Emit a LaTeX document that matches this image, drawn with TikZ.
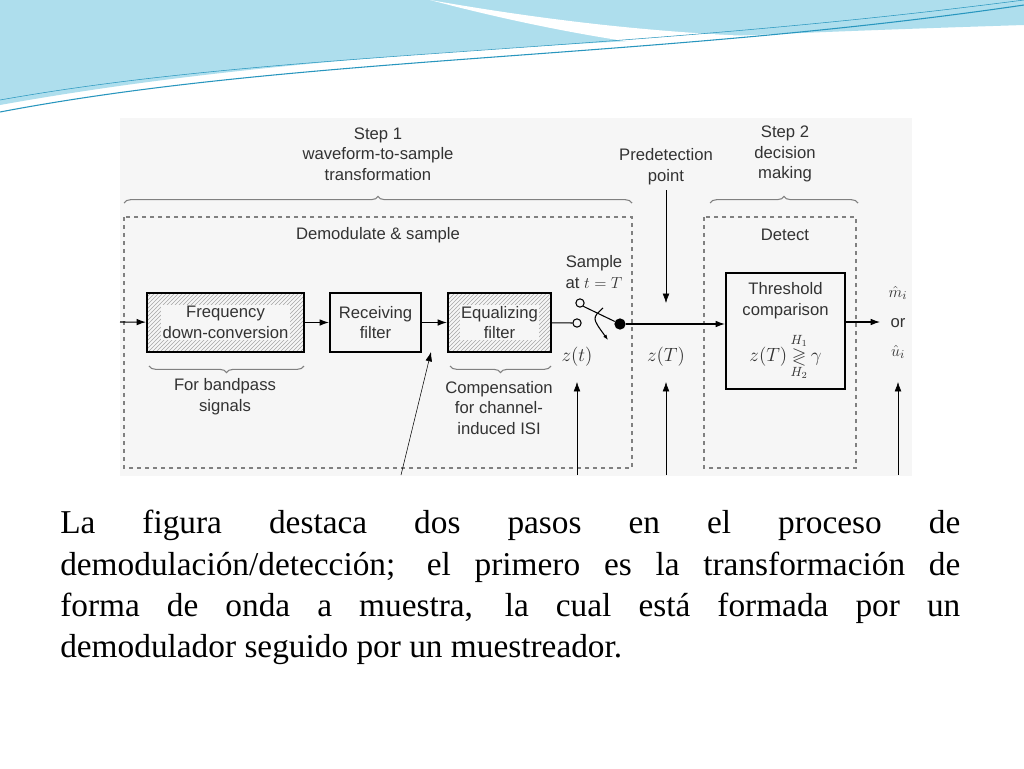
\documentclass[tikz,border=0pt]{standalone}
\usepackage{amssymb}
\usepackage{fontspec}
\setmainfont{Liberation Serif}
\setsansfont{Liberation Sans}
\usetikzlibrary{patterns,decorations.pathreplacing,arrows.meta}
\definecolor{wave}{RGB}{120,200,225}
\definecolor{wavedark}{RGB}{40,150,190}
\tikzset{
  blk/.style={draw, line width=1.6pt, inner sep=0pt},
  hatch/.style={blk, pattern=north east lines, pattern color=gray!70},
  dbox/.style={draw=gray, dashed, thick},
  lbl/.style={font=\sffamily\fontsize{12.5}{15.5}\selectfont, align=center, text=black!80},
  arr/.style={-{Latex[length=7pt,width=5pt]}, thick},
  brc/.style={decorate, decoration={brace, amplitude=5pt}, gray, thick}
}
\begin{document}
\begin{tikzpicture}[x=0.75pt,y=-0.75pt]
\useasboundingbox (0,0) rectangle (1024,768);
\fill[white] (0,0) rectangle (1024,768);
% top waves
\fill[wave!60] (0,0) -- (0,105) .. controls (250,60) and (550,40) .. (1024,25) -- (1024,0) -- cycle;
\fill[white] (430,0) .. controls (600,30) and (800,50) .. (1024,30) -- (1024,55) .. controls (800,75) and (600,45) .. (430,0) -- cycle;
\draw[wavedark, thick] (0,112) .. controls (300,55) and (650,60) .. (1024,5);
\draw[wavedark] (0,100) .. controls (280,50) and (600,55) .. (1024,0);
% diagram background
\fill[gray!7] (120,118) rectangle (912,476);
% step labels and braces
\node[lbl] (step1) at (378,154) {Step 1\\waveform-to-sample\\transformation};
\node[lbl] (pred) at (666,167) {Predetection\\point};
\node[lbl] (step2) at (785,154) {Step 2\\decision\\making};
\draw[brc] (124,203) -- (632,203);
\draw[brc] (710,203) -- (858,203);
% dashed boxes
\draw[dbox] (124,217) rectangle (632,468);
\draw[dbox] (704,217) rectangle (856,468);
\node[lbl] (demod) at (378,235) {Demodulate \& sample};
\node[lbl] (detect) at (785,235) {Detect};
% blocks
\node[hatch, minimum width=157*0.75pt, minimum height=59*0.75pt] (freq) at (225.5,322.5) {};
\node[lbl, fill=gray!7, inner sep=1pt] (freqtxt) at (freq) {Frequency\\down-conversion};
\node[blk, minimum width=91*0.75pt, minimum height=59*0.75pt, lbl] (recv) at (375.5,322.5) {Receiving\\filter};
\node[hatch, minimum width=103*0.75pt, minimum height=59*0.75pt] (equal) at (499.5,322.5) {};
\node[lbl, fill=gray!7, inner sep=1pt] (equaltxt) at (equal) {Equalizing\\filter};
\node[blk, minimum width=119*0.75pt, minimum height=116*0.75pt, anchor=north] (thr) at (785.5,272) {};
\node[lbl, anchor=north] (thrtxt) at (785.5,278) {Threshold\\comparison};
\node[lbl, font=\fontsize{14}{15}\selectfont] (rule) at (785.5,357) {$z(T)\mathop{\gtrless}\limits^{H_1}_{H_2}\gamma$};
% signal path
\coordinate (in) at (120,322);
\draw[arr] (in) -- (freq);
\draw[arr] (freq) -- (recv);
\draw[arr] (recv) -- (equal);
\node[draw, circle, inner sep=2.2pt, thick] (lo) at (577,323) {};
\node[draw, circle, inner sep=2.2pt, thick] (hi) at (580,303) {};
\node[fill, circle, inner sep=3pt] (dot) at (620,324) {};
\draw[thick] (equal) -- (lo);
\draw[thick] (hi.south east) -- (dot);
\draw[-{Latex[length=4pt]}, thick] (603,308) .. controls (592,318) .. (608,340);
\draw[arr] (dot) -- (thr.west |- dot);
\coordinate (out) at (880,322);
\draw[arr] (thr.east |- out) -- (out);
\node[lbl] (sample) at (594,272) {Sample\\at $t=T$};
\node[lbl, inner sep=1pt] (or) at (898,323) {or};
\node[lbl, inner sep=1pt, font=\fontsize{13}{14}\selectfont] (mhat) at (898,293) {$\hat m_i$};
\node[lbl, inner sep=1pt, font=\fontsize{13}{14}\selectfont] (uhat) at (898,352) {$\hat u_i$};
\node[lbl, font=\fontsize{13.5}{14}\selectfont] (zt) at (577,357) {$z(t)$};
\node[lbl, font=\fontsize{13.5}{14}\selectfont] (zT) at (666,357) {$z(T)$};
% pointers
\coordinate (ptop) at (666,190);
\draw[arr, thin] (ptop) -- (666,303);
\coordinate (b1) at (577,475); \coordinate (b2) at (666,475); \coordinate (b3) at (898,475); \coordinate (b4) at (401,475);
\draw[arr, thin] (b1) -- (577,382);
\draw[arr, thin] (b2) -- (666,382);
\draw[arr, thin] (b3) -- (898,382);
\draw[arr, thin] (b4) -- (431,352);
% lower braces
\draw[brc] (304,366) -- (149,366);
\draw[brc] (551,366) -- (450,366);
\node[lbl] (bp) at (225,397) {For bandpass\\signals};
\node[lbl] (isi) at (499,408) {Compensation\\for channel-\\induced ISI};
% paragraph
\node[anchor=north west, text width=900*0.75pt, align=justify, inner sep=0pt,
  font=\fontsize{25}{31}\selectfont] (para) at (60,510)
  {La figura destaca dos pasos en el proceso de\linebreak demodulación/detección; el primero es la transformación de\linebreak forma de onda a muestra, la cual está formada por un\linebreak demodulador seguido por un muestreador.};
\end{tikzpicture}
\end{document}
